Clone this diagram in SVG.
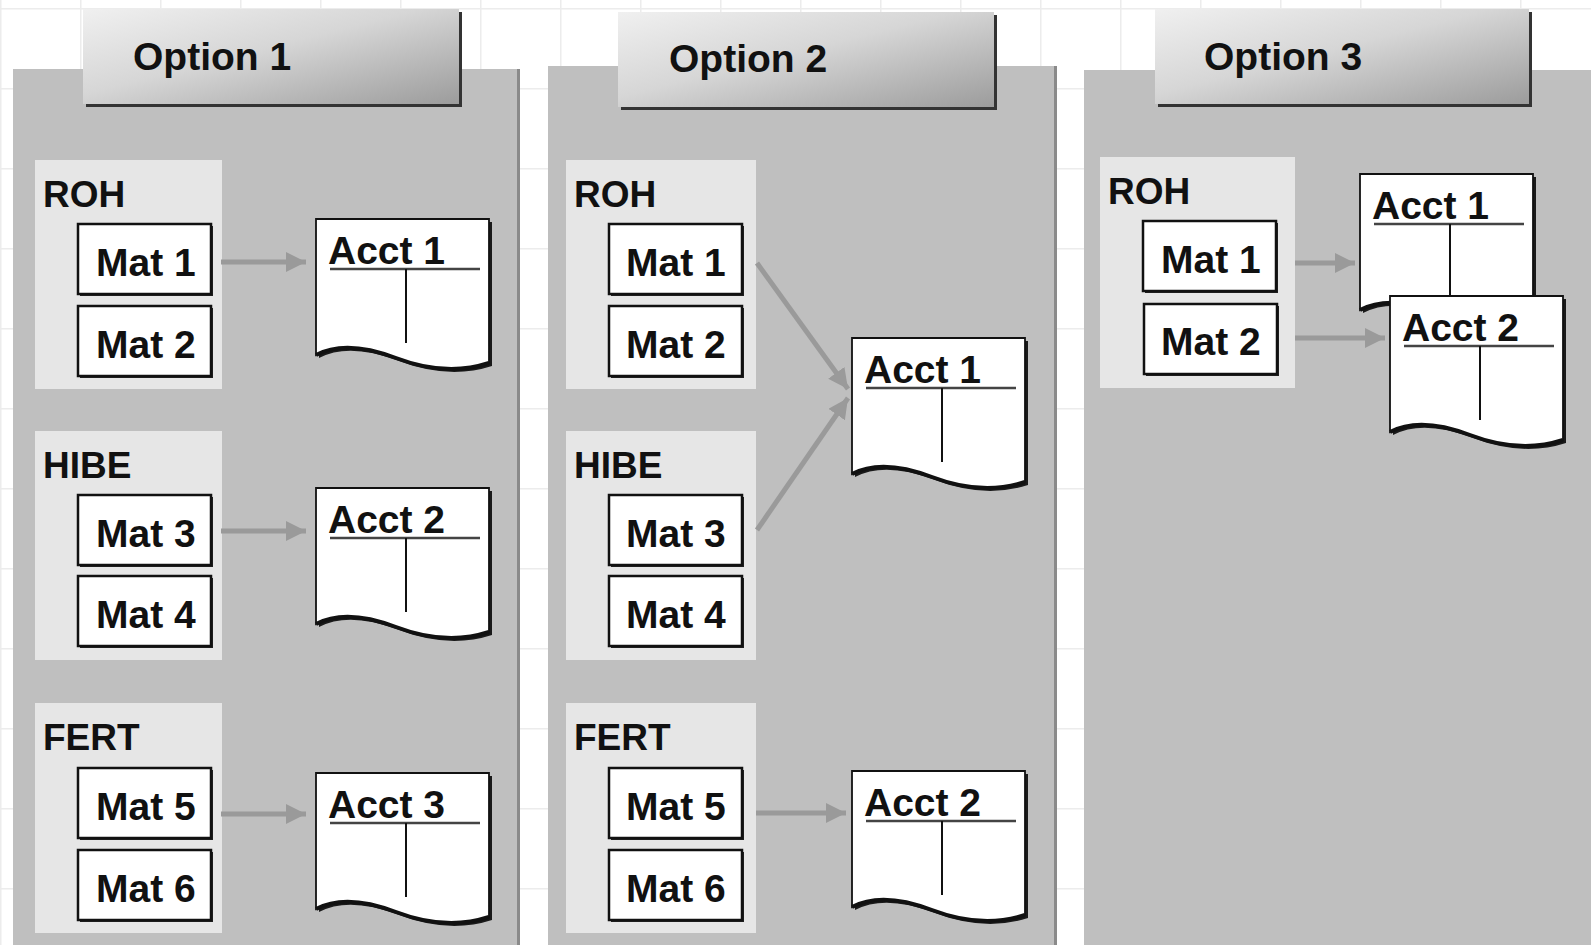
<svg xmlns="http://www.w3.org/2000/svg" width="1591" height="945" viewBox="0 0 1591 945">
<defs>
<pattern id="grid" width="80" height="80" patternUnits="userSpaceOnUse" x="0" y="8">
<path d="M0,0.5 H80 M0.5,0 V80" fill="none" stroke="#ececec" stroke-width="2"/>
</pattern>
<linearGradient id="tabg" x1="0" y1="0" x2="1" y2="1">
<stop offset="0" stop-color="#f0f0f0"/>
<stop offset="0.45" stop-color="#d6d6d6"/>
<stop offset="1" stop-color="#9c9c9c"/>
</linearGradient>
<marker id="ah" markerUnits="userSpaceOnUse" markerWidth="22" markerHeight="22" refX="20" refY="10" orient="auto">
<path d="M0,0 L20,10 L0,20 Z" fill="#9a9a9a"/>
</marker>
<g id="doc">
<path d="M0,0 H173 V144 Q130,158 80,139 Q30,120 0,136 Z" fill="#1a1a1a" transform="translate(3,3)"/>
<path d="M0,0 H173 V144 Q130,158 80,139 Q30,120 0,136 Z" fill="#ffffff" stroke="#111" stroke-width="1.8"/>
<path d="M0,136 Q30,120 80,139 Q130,158 173,144" fill="none" stroke="#111" stroke-width="4"/>
<line x1="14" y1="50" x2="164" y2="50" stroke="#444" stroke-width="2.5"/>
<line x1="90" y1="50" x2="90" y2="124" stroke="#111" stroke-width="2"/>
</g>
</defs>
<style>
.panel{fill:#bfbfbf}
.pedge{fill:#8a8a8a}
.grp{fill:#e6e6e6}
.mat{fill:#ffffff;stroke:#111;stroke-width:2.5}
.msh{fill:#222}
.tabsh{fill:#333}
.tab{fill:url(#tabg)}
.t{font-family:"Liberation Sans",Arial,sans-serif;font-weight:bold;fill:#111}
.tt{font-size:39px}
.lbl{font-size:37px}
.mt{font-size:39px}
.at{font-size:39px}
.conn{stroke:#9a9a9a;stroke-width:5;fill:none;marker-end:url(#ah)}
</style>
<rect width="1591" height="945" fill="#ffffff"/>
<rect width="1591" height="945" fill="url(#grid)"/>

<g id="panel1">
<rect class="panel" x="13" y="69" width="507" height="876"/>
<rect class="pedge" x="517" y="69" width="3" height="876"/>
<rect class="tabsh" x="86" y="12" width="376" height="95"/>
<rect class="tab" x="83" y="9" width="376" height="95"/>
<text class="t tt" x="133" y="70">Option 1</text>
</g>
<g id="panel2">
<rect class="panel" x="548" y="66" width="509" height="879"/>
<rect class="pedge" x="1054" y="66" width="3" height="879"/>
<rect class="tabsh" x="621" y="15" width="376" height="95"/>
<rect class="tab" x="618" y="12" width="376" height="95"/>
<text class="t tt" x="669" y="72">Option 2</text>
</g>
<g id="panel3">
<rect class="panel" x="1084" y="70" width="507" height="875"/>
<rect class="tabsh" x="1158" y="12" width="374" height="95"/>
<rect class="tab" x="1155" y="9" width="374" height="95"/>
<text class="t tt" x="1204" y="70">Option 3</text>
</g>

<!-- Panel 1 groups -->
<g id="p1-roh">
<rect class="grp" x="35" y="160" width="187" height="229"/>
<text class="t lbl" x="43" y="207">ROH</text>
</g>
<g id="p1-mat1"><rect class="msh" x="80" y="226" width="133" height="70"/><rect class="mat" x="78" y="224" width="133" height="70"/><text class="t mt" x="96" y="276">Mat 1</text></g>
<g id="p1-mat2"><rect class="msh" x="80" y="308" width="133" height="70"/><rect class="mat" x="78" y="306" width="133" height="70"/><text class="t mt" x="96" y="358">Mat 2</text></g>
<g id="p1-hibe">
<rect class="grp" x="35" y="431" width="187" height="229"/>
<text class="t lbl" x="43" y="478">HIBE</text>
</g>
<g id="p1-mat3"><rect class="msh" x="80" y="497" width="133" height="70"/><rect class="mat" x="78" y="495" width="133" height="70"/><text class="t mt" x="96" y="547">Mat 3</text></g>
<g id="p1-mat4"><rect class="msh" x="80" y="578" width="133" height="70"/><rect class="mat" x="78" y="576" width="133" height="70"/><text class="t mt" x="96" y="628">Mat 4</text></g>
<g id="p1-fert">
<rect class="grp" x="35" y="703" width="187" height="230"/>
<text class="t lbl" x="43" y="750">FERT</text>
</g>
<g id="p1-mat5"><rect class="msh" x="80" y="770" width="133" height="70"/><rect class="mat" x="78" y="768" width="133" height="70"/><text class="t mt" x="96" y="820">Mat 5</text></g>
<g id="p1-mat6"><rect class="msh" x="80" y="852" width="133" height="70"/><rect class="mat" x="78" y="850" width="133" height="70"/><text class="t mt" x="96" y="902">Mat 6</text></g>
<g id="p1-acct1"><use href="#doc" x="316" y="219"/><text class="t at" x="328" y="264">Acct 1</text></g>
<g id="p1-acct2"><use href="#doc" x="316" y="488"/><text class="t at" x="328" y="533">Acct 2</text></g>
<g id="p1-acct3"><use href="#doc" x="316" y="773"/><text class="t at" x="328" y="818">Acct 3</text></g>

<!-- Panel 2 groups -->
<g id="p2-roh">
<rect class="grp" x="566" y="160" width="190" height="229"/>
<text class="t lbl" x="574" y="207">ROH</text>
</g>
<g id="p2-mat1"><rect class="msh" x="611" y="226" width="133" height="70"/><rect class="mat" x="609" y="224" width="133" height="70"/><text class="t mt" x="626" y="276">Mat 1</text></g>
<g id="p2-mat2"><rect class="msh" x="611" y="308" width="133" height="70"/><rect class="mat" x="609" y="306" width="133" height="70"/><text class="t mt" x="626" y="358">Mat 2</text></g>
<g id="p2-hibe">
<rect class="grp" x="566" y="431" width="190" height="229"/>
<text class="t lbl" x="574" y="478">HIBE</text>
</g>
<g id="p2-mat3"><rect class="msh" x="611" y="497" width="133" height="70"/><rect class="mat" x="609" y="495" width="133" height="70"/><text class="t mt" x="626" y="547">Mat 3</text></g>
<g id="p2-mat4"><rect class="msh" x="611" y="578" width="133" height="70"/><rect class="mat" x="609" y="576" width="133" height="70"/><text class="t mt" x="626" y="628">Mat 4</text></g>
<g id="p2-fert">
<rect class="grp" x="566" y="703" width="190" height="230"/>
<text class="t lbl" x="574" y="750">FERT</text>
</g>
<g id="p2-mat5"><rect class="msh" x="611" y="770" width="133" height="70"/><rect class="mat" x="609" y="768" width="133" height="70"/><text class="t mt" x="626" y="820">Mat 5</text></g>
<g id="p2-mat6"><rect class="msh" x="611" y="852" width="133" height="70"/><rect class="mat" x="609" y="850" width="133" height="70"/><text class="t mt" x="626" y="902">Mat 6</text></g>
<g id="p2-acct1"><use href="#doc" x="852" y="338"/><text class="t at" x="864" y="383">Acct 1</text></g>
<g id="p2-acct2"><use href="#doc" x="852" y="771"/><text class="t at" x="864" y="816">Acct 2</text></g>

<!-- Panel 3 -->
<g id="p3-roh">
<rect class="grp" x="1100" y="157" width="195" height="231"/>
<text class="t lbl" x="1108" y="204">ROH</text>
</g>
<g id="p3-mat1"><rect class="msh" x="1145" y="223" width="133" height="70"/><rect class="mat" x="1143" y="221" width="133" height="70"/><text class="t mt" x="1161" y="273">Mat 1</text></g>
<g id="p3-mat2"><rect class="msh" x="1146" y="306" width="133" height="70"/><rect class="mat" x="1144" y="304" width="133" height="70"/><text class="t mt" x="1161" y="355">Mat 2</text></g>
<g id="p3-acct1"><use href="#doc" x="1360" y="174"/><text class="t at" x="1372" y="219">Acct 1</text></g>
<g id="p3-acct2"><use href="#doc" x="1390" y="296"/><text class="t at" x="1402" y="341">Acct 2</text></g>

<g id="connectors">
<line class="conn" x1="221" y1="262" x2="306" y2="262"/>
<line class="conn" x1="221" y1="531" x2="306" y2="531"/>
<line class="conn" x1="221" y1="814" x2="306" y2="814"/>
<line class="conn" x1="757" y1="263" x2="848" y2="389"/>
<line class="conn" x1="757" y1="530" x2="848" y2="398"/>
<line class="conn" x1="756" y1="813" x2="846" y2="813"/>
<line class="conn" x1="1295" y1="263" x2="1355" y2="263"/>
<line class="conn" x1="1295" y1="338" x2="1385" y2="338"/>
</g>
</svg>
